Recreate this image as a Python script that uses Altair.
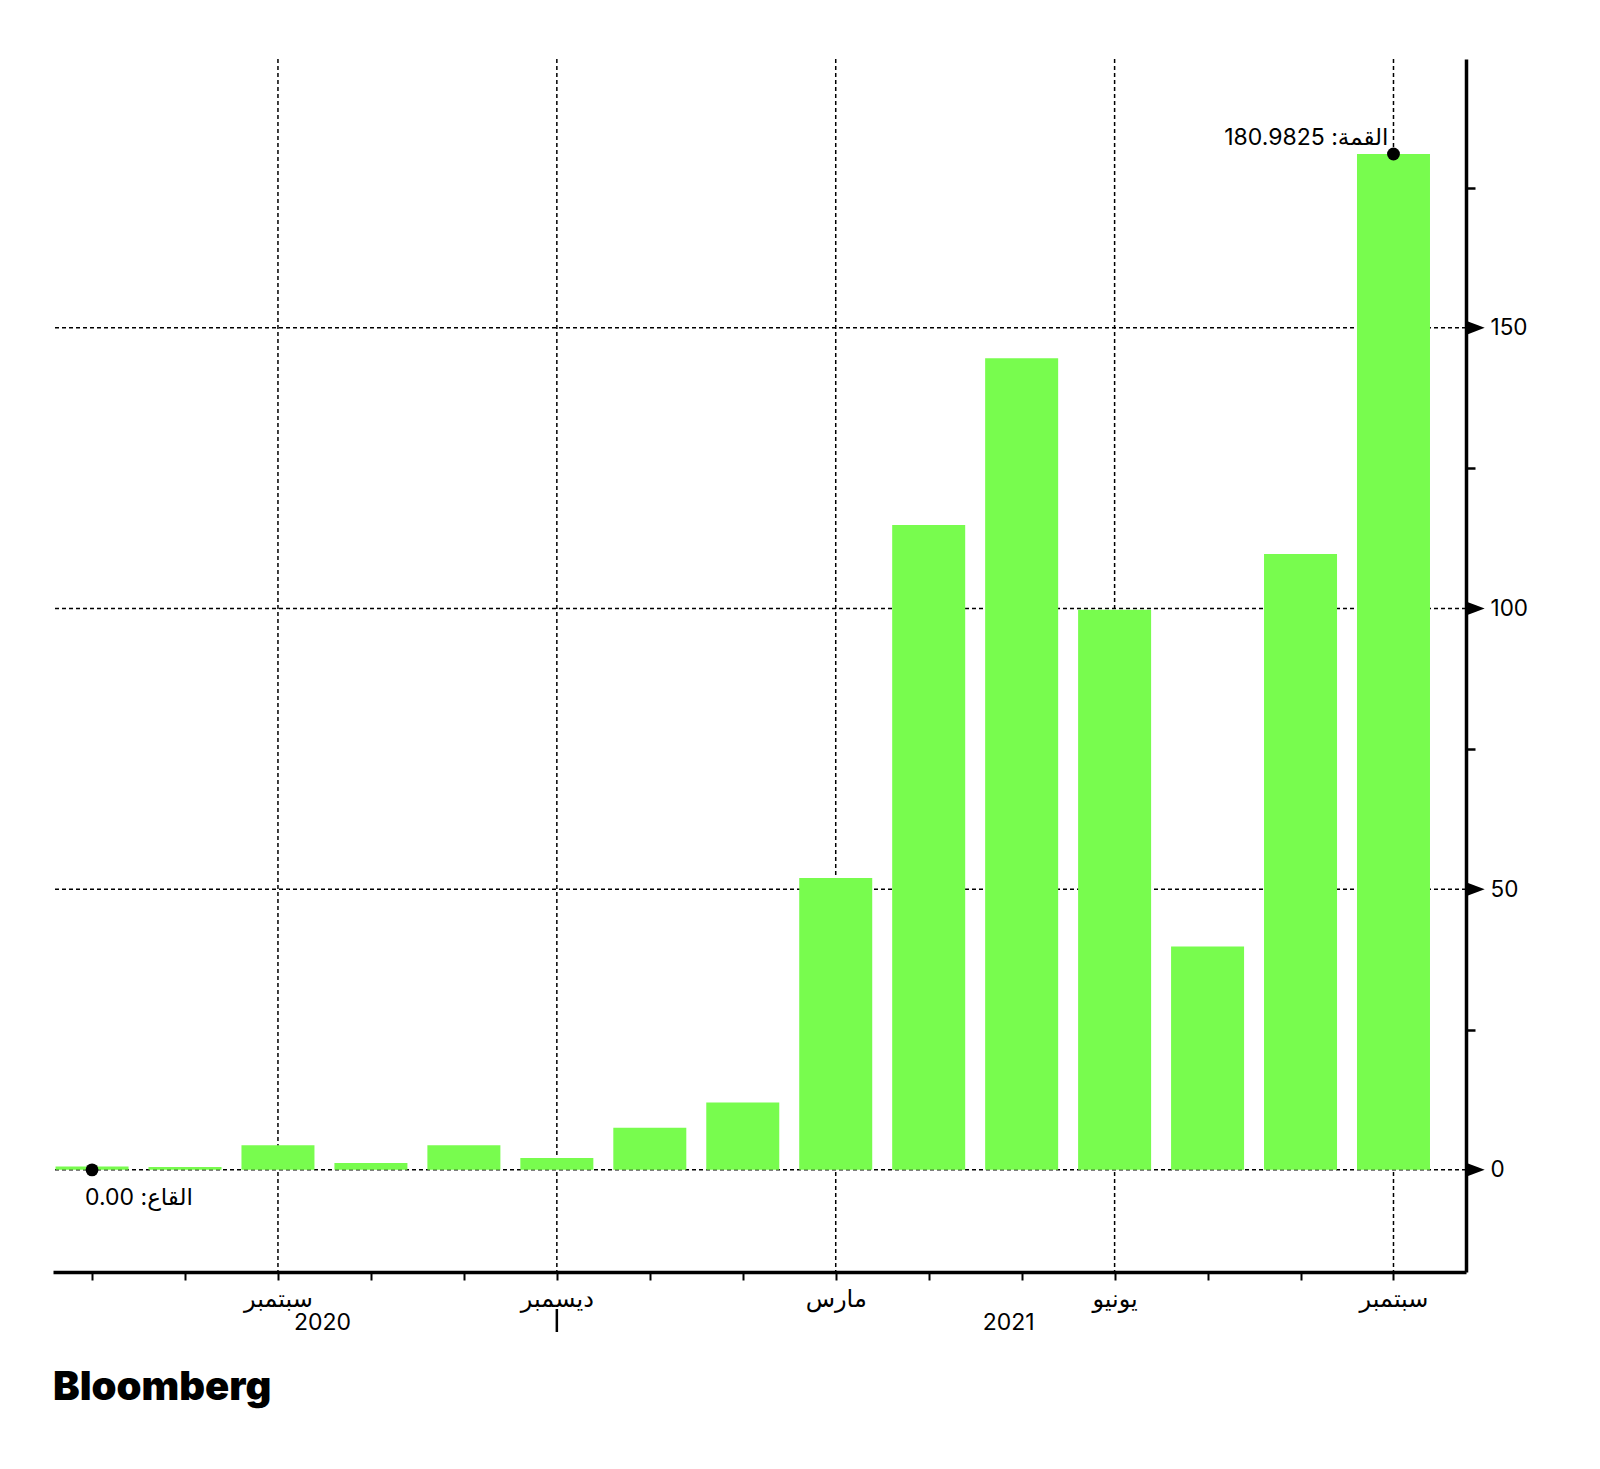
import altair as alt
import pandas as pd

# ---- data ----
months = ["يوليو", "أغسطس", "سبتمبر", "أكتوبر", "نوفمبر", "ديسمبر", "يناير",
          "فبراير", "مارس", "أبريل", "مايو", "يونيو", "يوليو", "أغسطس", "سبتمبر"]
values = [0.6, 0.5, 4.4, 1.2, 4.4, 2.1, 7.5, 12.0, 52.0, 114.9, 144.6, 99.8, 39.8, 109.7, 180.9825]
label_idx = [2, 5, 8, 11, 14]
y_ticks = [0, 25, 50, 75, 100, 125, 150, 175]
y_labeled = [0, 50, 100, 150]
years = ["2020", "2021"]
year_pos = [2.48, 9.86]
year_sep = [5]
peak_idx, peak_val, peak_text = [14], [180.9825], ["القمة: 180.9825"]
trough_idx, trough_val, trough_text = [0], [0.0], ["القاع: 0.00"]
brand = ["Bloomberg"]

W, H = 1413, 1213
FONT = "Inter, DejaVu Sans, sans-serif"
GREEN = "#78FC4E"

df = pd.DataFrame({"idx": list(range(len(values))), "value": values})

xscale = alt.Scale(domain=[-0.42, 14.78], nice=False, zero=False, padding=0)
yscale = alt.Scale(domain=[-18.2, 197.9], nice=False, zero=False, padding=0)

label_arr = "[" + ",".join((f"'{m}'" if i in label_idx else "''") for i, m in enumerate(months)) + "]"
xaxis = alt.Axis(values=list(range(len(months))), labelExpr=f"{label_arr}[datum.value]",
                 title=None, grid=False, domainColor="black", domainWidth=3.5,
                 tickColor="black", tickWidth=2, tickSize=8, labelPadding=7,
                 labelFontSize=24, labelFont=FONT, labelColor="black",
                 labelOverlap=False, labelFlush=False)
yaxis = alt.Axis(orient="right", values=y_ticks,
                 labelExpr="datum.value % 50 == 0 ? datum.label : ''",
                 title=None, grid=False, domainColor="black", domainWidth=3.5,
                 tickColor="black", tickWidth=2.5, tickSize=9, labelPadding=15,
                 labelFontSize=22.5, labelFont=FONT, labelColor="black",
                 labelOverlap=False, labelFlush=False)

X = lambda: alt.X("idx:Q", scale=xscale, axis=xaxis)
Y = lambda: alt.Y("value:Q", scale=yscale, axis=yaxis)

hgrid = alt.Chart(pd.DataFrame({"value": y_labeled})).mark_rule(
    color="black", strokeWidth=1.5, strokeDash=[4, 3]).encode(y=Y())
vgrid = alt.Chart(pd.DataFrame({"idx": label_idx})).mark_rule(
    color="black", strokeWidth=1.5, strokeDash=[4, 3]).encode(x=X())
bars = alt.Chart(df).mark_bar(color=GREEN, size=73).encode(x=X(), y=Y(), y2=alt.datum(0))

pk = pd.DataFrame({"idx": peak_idx, "value": peak_val, "t": peak_text})
tr = pd.DataFrame({"idx": trough_idx, "value": trough_val, "t": trough_text})
dots = alt.Chart(pd.concat([pk, tr])).mark_point(
    shape="circle", filled=True, color="black", opacity=1, size=165).encode(x=X(), y=Y())
pk_text = alt.Chart(pk).mark_text(align="right", baseline="alphabetic", dx=-5, dy=-9,
                                  fontSize=23, font=FONT, color="black").encode(x=X(), y=Y(), text="t:N")
tr_text = alt.Chart(tr).mark_text(align="left", baseline="alphabetic", dx=-7, dy=35,
                                  fontSize=23, font=FONT, color="black").encode(x=X(), y=Y(), text="t:N")

tris = alt.Chart(pd.DataFrame({"value": y_labeled})).mark_point(
    shape="M0,-0.75L2,0L0,0.75Z", size=350, filled=True, color="black", opacity=1, strokeWidth=0
).encode(x=alt.value(W), y=Y())

sep = alt.Chart(pd.DataFrame({"idx": year_sep})).mark_rule(color="black", strokeWidth=2.5).encode(
    x=X(), y=alt.value(H + 37), y2=alt.value(H + 60))
yr = alt.Chart(pd.DataFrame({"idx": year_pos, "year": years})).mark_text(
    fontSize=23, font=FONT, color="black", baseline="middle").encode(
    x=X(), y=alt.value(H + 51), text="year:N")
logo = alt.Chart(pd.DataFrame({"t": brand})).mark_text(
    fontSize=40, fontWeight=900, font="Inter, Liberation Sans", color="black",
    align="left", baseline="alphabetic").encode(
    x=alt.value(0), y=alt.value(H + 128), text="t:N")

chart = alt.layer(hgrid, vgrid, bars, dots, pk_text, tr_text, tris, sep, yr, logo).properties(
    width=W, height=H,
    autosize=alt.AutoSizeParams(type="none"),
    padding={"left": 45, "top": 51, "right": 120, "bottom": 190},
    background="white",
).configure_view(stroke=None)

chart.save("out.html", embed_options={"renderer": "svg", "actions": False})
